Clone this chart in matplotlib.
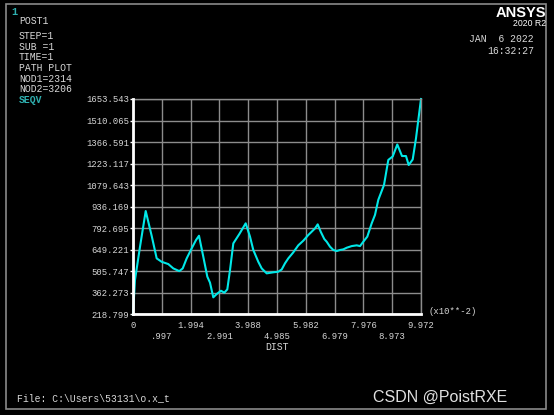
import matplotlib
matplotlib.use("Agg")
import matplotlib.pyplot as plt
from matplotlib.patches import Rectangle

# ---- data (DIST in x10**-2, SEQV) ----
dist = [0.0, 0.069, 0.242, 0.44, 0.647, 0.82, 0.994, 1.222, 1.395, 1.603, 1.721,
        1.859, 2.032, 2.181, 2.285, 2.434, 2.573, 2.666, 2.78, 2.898, 3.047, 3.161,
        3.265, 3.359, 3.473, 3.681, 3.819, 3.902, 4.051, 4.165, 4.339, 4.456, 4.629,
        4.858, 5.031, 5.149, 5.263, 5.377, 5.550, 5.723, 5.897, 6.070, 6.187, 6.302,
        6.395, 6.499, 6.624, 6.707, 6.821, 6.936, 7.053, 7.167, 7.282, 7.399, 7.573,
        7.746, 7.860, 7.974, 8.113, 8.265, 8.379, 8.494, 8.691, 8.840, 8.992, 9.151,
        9.314, 9.452, 9.546, 9.685, 9.799, 9.972]
seqv = [218.8, 446, 667, 906, 740, 590, 567, 552, 523, 505, 523,
        590, 657, 712, 741, 601, 468, 428, 330, 352, 374, 361,
        383, 512, 690, 752, 797, 824, 735, 646, 567, 523, 490,
        497, 501, 516, 557, 590, 630, 677, 708, 746, 768, 790,
        817, 768, 719, 701, 668, 646, 639, 646, 650, 661, 672,
        677, 672, 701, 735, 824, 880, 981, 1080, 1247, 1270, 1350,
        1273, 1273, 1213, 1250, 1392, 1653.543]

yticks = [218.799, 362.273, 505.747, 649.221, 792.695, 936.169, 1079.643,
          1223.117, 1366.591, 1510.065, 1653.543]
ytick_labels = ["218.799", "362.273", "505.747", "649.221", "792.695", "936.169",
                "1079.643", "1223.117", "1366.591", "1510.065", "1653.543"]
xticks = [0, 0.997, 1.994, 2.991, 3.988, 4.985, 5.982, 6.979, 7.976, 8.973, 9.972]
xtick_labels = ["0", ".997", "1.994", "2.991", "3.988", "4.985", "5.982",
                "6.979", "7.976", "8.973", "9.972"]

info_lines = ["STEP=1", "SUB =1", "TIME=1", "PATH PLOT", "NOD1=2314", "NOD2=3206"]

W, H = 554, 415
fig = plt.figure(figsize=(W / 100, H / 100), dpi=100, facecolor="black")

mono = "Liberation Mono"
txt = "#d8d8d8"
cyan = "#00e8e8"
teal = "#2fb0b0"

def px(x, y):
    return x / W, 1 - y / H

# outer frame
fig.patches.append(Rectangle(px(6, 409), 540 / W, 405 / H, transform=fig.transFigure,
                             fill=False, edgecolor="#8a8a8a", lw=1.2))

ax = fig.add_axes([133 / W, (H - 314) / H, 288 / W, 215 / H], facecolor="black")
ax.plot(dist, seqv, color=cyan, lw=1.5, clip_on=False)
ax.set_xlim(0, 9.972)
ax.set_ylim(218.799, 1653.543)
ax.set_yticks(yticks)
ax.set_yticklabels(ytick_labels, fontfamily=mono, fontsize=6.4, color=txt)
ax.set_xticks(xticks)
ax.set_xticklabels([l if i % 2 == 0 else "\n" + l for i, l in enumerate(xtick_labels)],
                   fontfamily=mono, fontsize=6.4, color=txt, linespacing=1.25)
ax.tick_params(axis="y", length=2, width=1, color="white", pad=1)
ax.tick_params(axis="x", length=0, pad=5)
ax.grid(True, color="#8c8c8c", lw=1)
for s in ["left", "bottom"]:
    ax.spines[s].set_color("white")
    ax.spines[s].set_linewidth(2)
    ax.spines[s].set_zorder(3)
for s in ["top", "right"]:
    ax.spines[s].set_color("#8c8c8c")
    ax.spines[s].set_linewidth(1)

ax.set_xlabel("DIST", fontfamily=mono, fontsize=7, color=txt, labelpad=1)
fig.text(*px(429, 311), "(x10**-2)", fontfamily=mono, fontsize=6.4, color=txt,
         ha="left", va="center")

# left header
fig.text(*px(11, 12), "1", fontfamily=mono, fontsize=7.5, color=teal, ha="left",
         va="center", fontweight="bold")
fig.text(*px(19, 20.5), "POST1", fontfamily=mono, fontsize=7, color=txt, ha="left", va="center")
for i, line in enumerate(info_lines):
    fig.text(*px(19, 36 + i * 10.7), line, fontfamily=mono, fontsize=7, color=txt,
             ha="left", va="center")
fig.text(*px(19, 100), "SEQV", fontfamily=mono, fontsize=7, color=teal, ha="left",
         va="center", fontweight="bold")

# right header
fig.text(*px(546, 13), "ANSYS", fontfamily="Liberation Sans", fontsize=10.5,
         fontweight="bold", color="white", ha="right", va="center")
fig.text(*px(546, 24), "2020 R2", fontfamily="Liberation Sans", fontsize=6.3,
         color="white", ha="right", va="center")
fig.text(*px(534, 39.5), "JAN  6 2022", fontfamily=mono, fontsize=7, color=txt,
         ha="right", va="center")
fig.text(*px(534, 51), "16:32:27", fontfamily=mono, fontsize=7, color=txt,
         ha="right", va="center")

# footer
fig.text(*px(17, 398), "File: C:\\Users\\53131\\o.x_t", fontfamily=mono, fontsize=7,
         color=txt, ha="left", va="center")
fig.text(*px(507, 397), "CSDN @PoistRXE", fontfamily="Liberation Sans", fontsize=11.5,
         color="#e0e0e0", ha="right", va="center")

fig.savefig("out.png", dpi=100, facecolor="black")
